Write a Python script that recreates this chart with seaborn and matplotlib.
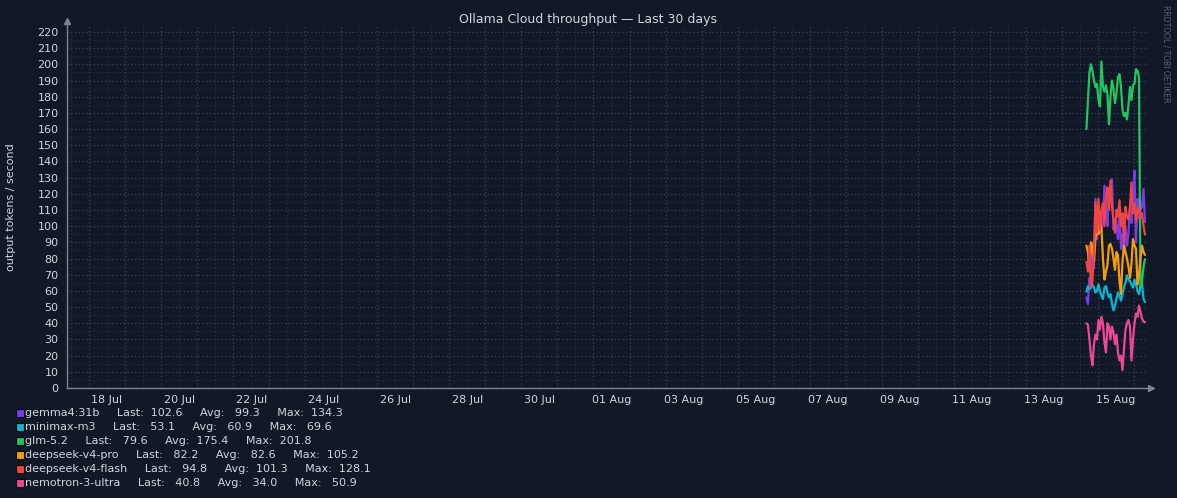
import numpy as np
import pandas as pd
import matplotlib
matplotlib.use("Agg")
import matplotlib.pyplot as plt
import matplotlib.dates as mdates
from matplotlib.ticker import MultipleLocator, FuncFormatter, NullFormatter
from matplotlib.patches import Rectangle
import seaborn as sns

# ---------------- data ----------------
series_names = ["gemma4:31b", "minimax-m3", "glm-5.2", "deepseek-v4-pro",
                "deepseek-v4-flash", "nemotron-3-ultra"]
series_colors = ["#7c3aed", "#06b6d4", "#22c55e", "#f59e0b", "#ef4444", "#ec4899"]

sample_start = "2026-08-14 16:20"
sample_step = "1h"

gemma = [56, 52, 68, 62, 90, 74, 117, 92, 100, 108, 96, 104, 125, 110, 100, 122,
         118, 129, 98, 104, 100, 92, 112, 86, 95, 84, 100, 88, 96, 110, 102, 120,
         134.3, 90, 117, 105, 110, 112, 123, 102.6]
minimax = [59.5, 63, 61, 62, 64, 62, 59, 60, 64, 60, 57, 55, 62, 63, 59, 56,
           58, 52, 48, 51, 55, 59, 57, 54, 58, 62, 65, 69.6, 67, 66, 64, 62,
           67, 64, 60, 58, 62, 65, 55, 53.1]
glm = [160, 178, 195, 200, 196, 190, 186, 188, 178, 174, 201.8, 186, 183, 187, 181, 163,
       180, 190, 185, 176, 182, 192, 194, 186, 172, 168, 170, 166, 175, 186, 178, 187,
       188, 197, 196, 192, 62, 66, 75, 79.6]
ds_pro = [88, 84, 72, 90, 86, 78, 92, 99, 95, 105.2, 98, 80, 67, 72, 76, 88,
          89, 86, 80, 73, 84, 82, 66, 58, 78, 88, 84, 80, 75, 68, 77, 92,
          88, 86, 64, 70, 80, 88, 84, 82.2]
ds_flash = [78, 72, 88, 62, 66, 84, 115, 96, 117, 98, 110, 114, 100, 118, 124, 110,
            128.1, 112, 104, 96, 110, 106, 116, 100, 108, 90, 112, 106, 104, 112, 127, 108,
            114, 103, 110, 112, 105, 108, 100, 94.8]
nemotron = [40, 39, 30, 20, 14, 27, 33, 30, 42, 36, 44, 40, 28, 22, 40, 38,
            30, 38, 34, 27, 33, 22, 17, 20, 11, 24, 36, 40, 42, 38, 17, 30,
            40, 46, 44, 50.9, 47, 43, 41, 40.8]

legend_last = [102.6, 53.1, 79.6, 82.2, 94.8, 40.8]
legend_avg = [99.3, 60.9, 175.4, 82.6, 101.3, 34.0]
legend_max = [134.3, 69.6, 201.8, 105.2, 128.1, 50.9]

title_text = "Ollama Cloud throughput \u2014 Last 30 days"
y_label = "output tokens / second"
watermark = "RRDTOOL / TOBI OETIKER"
window_end = pd.Timestamp("2026-08-16 09:20")
window_days = 30

# ---------------- build frame ----------------
values = [gemma, minimax, glm, ds_pro, ds_flash, nemotron]
n = len(gemma)
times = pd.date_range(sample_start, periods=n, freq=sample_step)
df = pd.DataFrame({
    "time": np.tile(times, len(series_names)),
    "series": np.repeat(series_names, n),
    "value": np.concatenate([np.asarray(v, float) for v in values]),
})

# ---------------- style ----------------
BG = "#111827"
TXT = "#d1d5db"
AXIS = "#7c8595"
GRID_MAJ = "#3a4353"
GRID_MIN = "#262f3f"

sns.set_theme(style="dark")
plt.rcParams["font.family"] = ["DejaVu Sans"]

W, H = 1177, 498
fig = plt.figure(figsize=(W / 100, H / 100), dpi=100, facecolor=BG)
ax = fig.add_axes([67 / W, 1 - 388 / H, (1148 - 67) / W, (388 - 25) / H])
ax.set_facecolor(BG)

sns.lineplot(data=df, x="time", y="value", hue="series", hue_order=series_names,
             palette=dict(zip(series_names, series_colors)), linewidth=1.6,
             estimator=None, sort=False, legend=False, ax=ax)

ax.set_xlim(window_end - pd.Timedelta(days=window_days), window_end)
ax.set_ylim(0, 224.3)
ax.set_xlabel("")
ax.set_ylabel("")

# x ticks: day grid at midnight, labels at noon every other day
ax.xaxis.set_major_locator(mdates.DayLocator())
ax.xaxis.set_major_formatter(NullFormatter())
ax.xaxis.set_minor_locator(mdates.HourLocator(byhour=12))
ref_ord = pd.Timestamp("2026-07-18").toordinal()


def fmt_day(x, pos=None):
    d = mdates.num2date(x)
    if (d.toordinal() - ref_ord) % 2 == 0:
        return d.strftime("%d %b")
    return ""


ax.xaxis.set_minor_formatter(FuncFormatter(fmt_day))
ax.yaxis.set_major_locator(MultipleLocator(10))
ax.yaxis.set_minor_locator(MultipleLocator(5))

ax.grid(which="major", axis="both", color=GRID_MAJ, linestyle=(0, (1, 2)), linewidth=0.9)
ax.grid(which="minor", axis="both", color=GRID_MIN, linestyle=(0, (1, 2)), linewidth=0.9)
ax.set_axisbelow(True)

ax.tick_params(axis="x", which="both", length=0, labelsize=8, labelcolor=TXT, pad=5)
ax.tick_params(axis="y", which="major", length=2, color=AXIS, labelsize=8, labelcolor=TXT, pad=4)
ax.tick_params(axis="y", which="minor", length=0)

for s in ["top", "right"]:
    ax.spines[s].set_visible(False)
for s in ["left", "bottom"]:
    ax.spines[s].set_color(AXIS)
    ax.spines[s].set_linewidth(1.0)

# axis arrows
fig.add_artist(plt.Line2D([67 / W, 67 / W], [1 - 25 / H, 1 - 21 / H], color=AXIS, lw=1.0,
                          transform=fig.transFigure))
fig.add_artist(plt.Line2D([67 / W], [1 - 21 / H], marker="^", ms=5, color=AXIS, lw=0,
                          transform=fig.transFigure))
fig.add_artist(plt.Line2D([1148 / W, 1151 / W], [1 - 388 / H, 1 - 388 / H], color=AXIS, lw=1.0,
                          transform=fig.transFigure))
fig.add_artist(plt.Line2D([1151 / W], [1 - 388 / H], marker=">", ms=5, color=AXIS, lw=0,
                          transform=fig.transFigure))

# titles
fig.text(588 / W, 1 - 19 / H, title_text, ha="center", va="center", fontsize=9, color=TXT)
fig.text(11 / W, 1 - 207 / H, y_label, ha="center", va="center", rotation=90,
         fontsize=8, color=TXT)
fig.text(1166 / W, 1 - 5 / H, watermark, ha="center", va="top", rotation=270,
         fontsize=5.5, color="#5b6473")

# legend
for k, (name, c) in enumerate(zip(series_names, series_colors)):
    yc = 413 + 14 * k
    fig.add_artist(Rectangle((16 / W, 1 - (yc + 4) / H), 8 / W, 8 / H, transform=fig.transFigure,
                             facecolor=c, edgecolor="black", linewidth=0.8))
    line = (f"{name}     Last: {legend_last[k]:6.1f}     Avg: {legend_avg[k]:6.1f}"
            f"     Max: {legend_max[k]:6.1f}")
    fig.text(25 / W, 1 - yc / H, line, ha="left", va="center", fontsize=8, color=TXT)

fig.savefig("out.png", dpi=100, facecolor=BG)
